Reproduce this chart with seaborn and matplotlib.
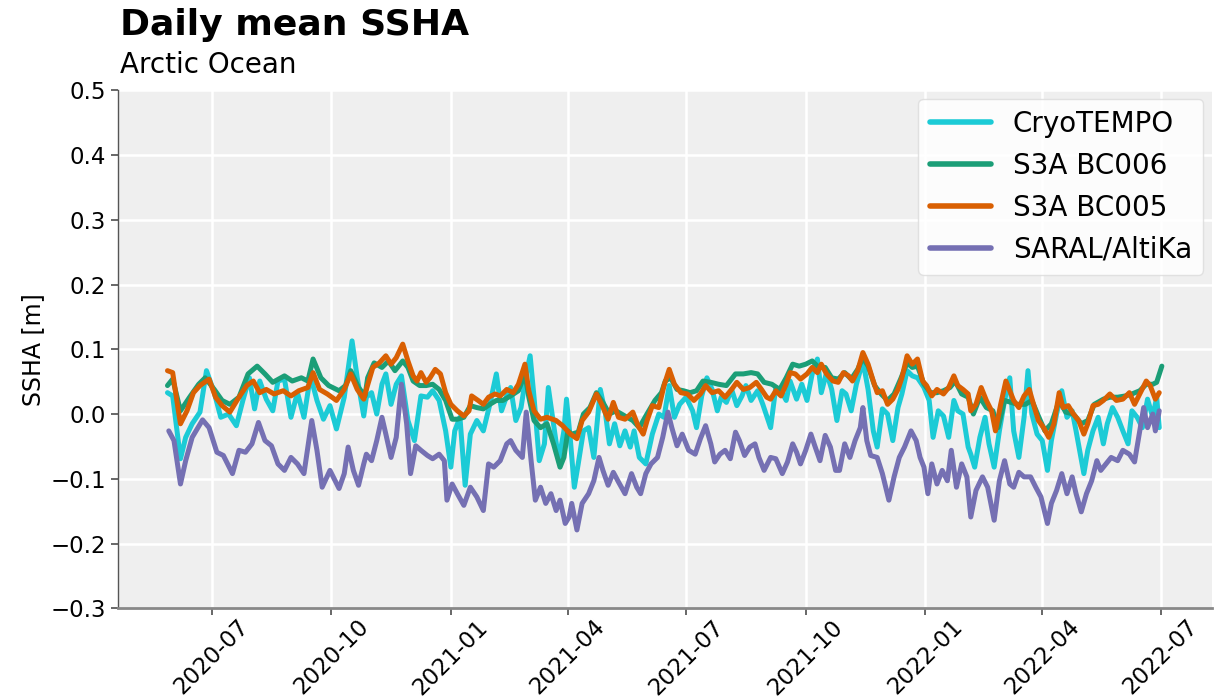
import matplotlib.pyplot as plt
import matplotlib.dates as mdates
import pandas as pd
import seaborn as sns

# days counted from 2020-07-01, values in metres
cryo_days = [-34, -30, -26, -24, -20, -15, -9, -4, 2, 7, 13, 19, 24, 29, 33, 37, 42, 47, 51, 56,
             61, 66, 71, 76, 81, 86, 91, 96, 102, 108, 112, 117,
             119, 123, 127, 131, 134, 138, 142, 146, 151, 156, 161, 166, 170, 175, 180, 184, 187, 191,
             195, 199, 204, 209, 214, 219, 223, 227, 230, 234, 238, 242, 245, 248, 252, 256, 259, 263,
             267, 271,
             273, 276, 279, 282, 286, 290, 294, 299, 303, 306, 310, 314, 318, 322, 325, 329, 334, 339,
             344, 348, 352, 356, 360, 365, 370, 373, 377, 381, 385, 389, 392, 396, 400, 404, 408, 411,
             415, 420, 424,
             430, 434, 438, 442, 445, 450, 454, 458, 462, 466, 469, 473, 477, 481, 485, 488, 492, 496,
             501, 505, 509, 512, 516, 520, 524, 528, 531, 535, 539, 543, 548, 552, 555, 559, 563, 567,
             571, 574, 578, 582,
             584, 587, 591, 595, 598, 602, 606, 610, 614, 617, 621, 625, 628, 631, 635, 639, 643, 646,
             650, 654, 658, 662, 665, 671, 674, 678, 682, 686, 689, 693, 697, 701, 705, 708, 712, 716,
             720, 724, 727, 729]
cryo_vals = [0.033, 0.028, -0.036, -0.069, -0.036, -0.015, 0.003, 0.067, 0.033, -0.005, 0.0, -0.018,
             0.021, 0.056, 0.008, 0.051, 0.023, 0.005, 0.051, 0.054, -0.005, 0.033, -0.005, 0.059,
             0.021, -0.008, 0.013, -0.023, 0.026, 0.113, 0.056, -0.003,
             0.026, 0.033, 0.0, 0.046, 0.062, 0.015, 0.046, 0.059, -0.010, -0.041, 0.028, 0.026, 0.036,
             0.021, -0.026, -0.082, -0.026, -0.005, -0.110, -0.031, -0.010, -0.026, 0.015, 0.062, 0.005,
             0.028, 0.041, -0.010, 0.010, 0.062, 0.090, 0.026, -0.072, -0.046, 0.041, -0.015, -0.072,
             -0.026,
             0.023, -0.041, -0.113, -0.077, -0.026, -0.021, -0.067, 0.038, 0.0, -0.046, -0.015, -0.049,
             -0.026, -0.051, -0.026, -0.067, -0.077, -0.031, 0.0, -0.005, 0.044, -0.005, 0.015, 0.026,
             0.005, -0.021, 0.028, 0.056, 0.038, 0.005, 0.026, 0.018, 0.038, 0.013, 0.028, 0.044, 0.021,
             0.036, 0.015,
             -0.021, 0.041, 0.036, 0.021, 0.051, 0.023, 0.046, 0.021, 0.062, 0.085, 0.033, 0.064, 0.038,
             -0.010, 0.036, 0.031, 0.005, 0.046, 0.082, 0.038, -0.026, -0.051, 0.008, 0.0, -0.041, 0.010,
             0.031, 0.067, 0.059, 0.056, 0.041, 0.021, -0.036, 0.005, -0.003, -0.036, 0.021, 0.005, 0.0,
             -0.051,
             -0.062, -0.082, -0.036, -0.005, -0.046, -0.082, -0.026, 0.021, 0.056, -0.026, -0.067, -0.005,
             0.067, 0.0, -0.031, -0.041, -0.087, -0.041, 0.0, 0.036, -0.005, 0.005, -0.026, -0.092,
             -0.056, -0.026, -0.005, -0.046, -0.015, 0.010, -0.005, -0.026, -0.046, 0.005, -0.005,
             -0.021, 0.023, -0.005, 0.026, -0.021]

bc006_days = [-34, -30, -24, -17, -10, -5, 2, 8, 14, 21, 28, 35, 41, 47, 56, 62, 69, 74, 78, 84, 90,
              98, 103, 107, 113, 118,
              120, 125, 131, 136, 141, 147, 151, 155, 160, 165, 170, 175, 180, 185, 189, 194, 199, 204,
              209, 214, 219, 224, 230, 236, 241, 244, 248, 253, 258, 263, 268, 271,
              274, 277, 282, 286, 291, 296, 301, 306, 311, 318, 324, 329, 334, 341, 346, 349, 353, 358,
              363, 368, 373, 378, 384, 390, 396, 403, 409, 415, 420, 425,
              431, 437, 442, 447, 452, 457, 462, 467, 472, 477, 482, 487, 492, 497, 501, 505, 510, 515,
              520, 525, 530, 535, 539, 543, 548, 553, 558, 563, 568, 572, 577, 582,
              586, 591, 596, 601, 605, 610, 615, 620, 626, 631, 636, 641, 646, 652, 657, 663, 669, 674,
              679, 686, 691, 697, 703, 708, 714, 719, 724, 727, 731]
bc006_vals = [0.044, 0.054, 0.005, 0.026, 0.046, 0.056, 0.038, 0.021, 0.015, 0.026, 0.062, 0.074, 0.062,
              0.049, 0.059, 0.051, 0.056, 0.051, 0.085, 0.056, 0.044, 0.036, 0.044, 0.067, 0.041, 0.028,
              0.056, 0.079, 0.072, 0.082, 0.067, 0.082, 0.072, 0.051, 0.044, 0.044, 0.046, 0.038, 0.021,
              -0.008, -0.008, -0.005, 0.013, 0.010, 0.008, 0.015, 0.021, 0.021, 0.028, 0.036, 0.062,
              0.026, -0.010, -0.021, -0.015, -0.046, -0.082, -0.067,
              -0.026, -0.031, -0.028, 0.0, 0.010, 0.033, 0.018, 0.0, 0.005, -0.003, -0.010, -0.021,
              -0.003, 0.021, 0.033, 0.051, 0.056, 0.038, 0.036, 0.033, 0.036, 0.051, 0.049, 0.046, 0.044,
              0.062, 0.062, 0.064, 0.062, 0.049,
              0.046, 0.038, 0.056, 0.077, 0.074, 0.077, 0.082, 0.072, 0.072, 0.056, 0.054, 0.064, 0.054,
              0.069, 0.087, 0.074, 0.044, 0.031, 0.021, 0.031, 0.054, 0.079, 0.072, 0.074, 0.046, 0.033,
              0.033, 0.036, 0.041, 0.051, 0.031, 0.026,
              0.0, 0.026, 0.010, 0.005, -0.021, 0.021, 0.018, 0.015, 0.015, 0.021, -0.003, -0.026, -0.015,
              0.021, 0.003, 0.0, -0.015, -0.010, 0.015, 0.023, 0.026, 0.026, 0.028, 0.031, 0.036, 0.046,
              0.046, 0.049, 0.074]

bc005_days = [-34, -30, -26, -24, -19, -14, -9, -2, 3, 8, 14, 21, 27, 32, 37, 42, 48, 55, 61, 67, 74,
              78, 83, 89, 96, 102, 107, 112, 117,
              119, 124, 129, 134, 138, 142, 147, 151, 155, 158, 161, 165, 168, 172, 176, 180, 184, 189,
              194, 198, 200, 205, 209, 213, 218, 222, 227, 232, 236, 241, 244, 248, 253, 258, 265, 270,
              276, 281, 285, 290, 296, 300, 305, 309, 313, 318, 324, 328, 332, 335, 339, 344, 348, 352,
              356, 361, 366, 371, 376, 380, 385, 390, 395, 400, 404, 409, 414, 419, 423, 427,
              430, 434, 438, 442, 445, 449, 453, 458, 462, 466, 469, 473, 478, 482, 486, 490, 493, 497,
              501, 505, 509, 512, 516, 520, 524, 528, 531, 535, 539, 543, 547, 550, 554, 558, 563, 567,
              571, 574, 578, 582,
              584, 588, 592, 596, 600, 603, 607, 611, 614, 617, 621, 625, 629, 633, 636, 640, 644, 648,
              652, 655, 659, 663, 667, 671, 674, 678, 682, 686, 691, 696, 701, 706, 710, 714, 719, 722,
              726, 729]
bc005_vals = [0.067, 0.064, 0.010, -0.015, 0.005, 0.033, 0.044, 0.054, 0.026, 0.013, 0.003, 0.026, 0.044,
              0.051, 0.033, 0.038, 0.031, 0.036, 0.028, 0.036, 0.041, 0.064, 0.038, 0.031, 0.021, 0.038,
              0.062, 0.038, 0.023,
              0.038, 0.072, 0.079, 0.090, 0.077, 0.087, 0.108, 0.082, 0.059, 0.051, 0.064, 0.049, 0.056,
              0.069, 0.062, 0.033, 0.015, 0.005, -0.003, 0.005, 0.028, 0.021, 0.015, 0.026, 0.031, 0.028,
              0.038, 0.033, 0.046, 0.077, 0.036, 0.005, -0.008, -0.005, -0.010, -0.018,
              -0.031, -0.038, -0.010, 0.003, 0.031, 0.015, -0.008, 0.018, -0.005, -0.008, 0.003, -0.018,
              -0.031, -0.010, 0.013, 0.010, 0.044, 0.069, 0.046, 0.033, 0.031, 0.021, 0.031, 0.044, 0.033,
              0.036, 0.026, 0.038, 0.049, 0.038, 0.041, 0.049, 0.038, 0.026,
              0.023, 0.036, 0.028, 0.046, 0.064, 0.062, 0.054, 0.062, 0.072, 0.064, 0.077, 0.062, 0.051,
              0.049, 0.064, 0.059, 0.051, 0.067, 0.095, 0.077, 0.051, 0.033, 0.036, 0.015, 0.023, 0.038,
              0.056, 0.090, 0.077, 0.085, 0.051, 0.044, 0.028, 0.038, 0.031, 0.041, 0.059, 0.044, 0.038,
              0.031,
              0.005, 0.015, 0.041, 0.021, 0.005, -0.026, 0.015, 0.051, 0.036, 0.021, 0.010, 0.028, 0.038,
              0.010, -0.010, -0.021, -0.036, -0.015, 0.033, 0.010, 0.013, 0.0, -0.010, -0.031, -0.015,
              0.013, 0.015, 0.021, 0.031, 0.021, 0.023, 0.033, 0.015, 0.031, 0.051, 0.044, 0.023, 0.033]

saral_days = [-33, -29, -24, -20, -15, -7, -2, 4, 9, 16, 21, 26, 31, 36, 41, 46, 51, 56, 61, 66, 71,
              77, 81, 85, 91, 98, 102, 105, 109, 113, 117,
              119, 123, 127, 131, 134, 138, 142, 146, 150, 153, 157, 161, 166, 170, 175, 179, 181, 185,
              189, 194, 199, 204, 209, 213, 217, 222, 227, 230, 234, 239, 242, 246, 249, 253, 257, 261,
              265, 268, 272,
              275, 277, 281, 285, 290, 294, 298, 301, 305, 309, 313, 318, 323, 327, 330, 334, 338, 343,
              347, 351, 354, 358, 362, 367, 372, 376, 380, 384, 387, 391, 395, 399, 403, 406, 410, 414,
              418, 421, 425,
              430, 434, 439, 443, 447, 450, 453, 457, 461, 464, 468, 472, 476, 480, 483, 487, 491, 495,
              499, 501, 504, 507, 512, 516, 521, 525, 529, 533, 538, 542, 545, 548, 551, 554, 558, 562,
              566, 569, 573, 577, 581,
              584, 588, 593, 597, 602, 606, 610, 614, 617, 621, 625, 630, 634, 638, 643, 646, 650, 654,
              658, 662, 665, 669, 673, 677, 681, 684, 688, 692, 697, 701, 706, 710, 714, 717, 720, 724,
              726, 729]
saral_vals = [-0.026, -0.041, -0.108, -0.072, -0.036, -0.009, -0.021, -0.059, -0.064, -0.092, -0.056,
              -0.059, -0.046, -0.013, -0.041, -0.049, -0.077, -0.087, -0.067, -0.077, -0.092, -0.010,
              -0.056, -0.113, -0.087, -0.115, -0.092, -0.051, -0.087, -0.110, -0.077,
              -0.062, -0.072, -0.041, -0.005, -0.031, -0.067, -0.036, 0.046, -0.015, -0.092, -0.049,
              -0.056, -0.064, -0.069, -0.062, -0.072, -0.133, -0.108, -0.123, -0.141, -0.113, -0.128,
              -0.149, -0.077, -0.082, -0.072, -0.046, -0.041, -0.056, -0.067, 0.003, -0.077, -0.133,
              -0.113, -0.138, -0.123, -0.149, -0.133, -0.169,
              -0.159, -0.138, -0.179, -0.138, -0.123, -0.103, -0.067, -0.087, -0.110, -0.090, -0.105,
              -0.123, -0.092, -0.113, -0.123, -0.092, -0.077, -0.067, -0.036, 0.003, -0.021, -0.049,
              -0.031, -0.056, -0.062, -0.038, -0.018, -0.046, -0.074, -0.062, -0.056, -0.069, -0.028,
              -0.041, -0.064, -0.051, -0.046, -0.067, -0.087,
              -0.067, -0.069, -0.092, -0.074, -0.046, -0.059, -0.077, -0.056, -0.031, -0.049, -0.072,
              -0.033, -0.051, -0.087, -0.087, -0.046, -0.067, -0.041, -0.021, 0.010, -0.041, -0.064,
              -0.067, -0.092, -0.133, -0.097, -0.067, -0.051, -0.026, -0.041, -0.067, -0.082, -0.123,
              -0.077, -0.108, -0.087, -0.103, -0.056, -0.113, -0.077, -0.097,
              -0.159, -0.118, -0.097, -0.113, -0.164, -0.103, -0.072, -0.108, -0.113, -0.090, -0.097,
              -0.097, -0.113, -0.128, -0.169, -0.138, -0.118, -0.092, -0.123, -0.097, -0.123, -0.151,
              -0.123, -0.103, -0.072, -0.087, -0.077, -0.067, -0.072, -0.056, -0.062, -0.074, -0.026,
              0.010, -0.021, 0.0, -0.026, 0.005]

products = ["CryoTEMPO", "S3A BC006", "S3A BC005", "SARAL/AltiKa"]
colors = ["#1ccbd6", "#1b9e77", "#d95f02", "#7570b3"]

start = pd.Timestamp("2020-07-01")
frames = []
for name, days, vals in zip(products,
                            [cryo_days, bc006_days, bc005_days, saral_days],
                            [cryo_vals, bc006_vals, bc005_vals, saral_vals]):
    frames.append(pd.DataFrame({
        "date": start + pd.to_timedelta(days, unit="D"),
        "ssha": vals,
        "product": name,
    }))
df = pd.concat(frames, ignore_index=True)

sns.set_theme(style="darkgrid", rc={"axes.facecolor": "#efefef", "grid.color": "white",
                                    "grid.linewidth": 1.8, "text.color": "black",
                                    "axes.labelcolor": "black", "xtick.color": "black",
                                    "ytick.color": "black"})
plt.rcParams["font.family"] = ["DejaVu Sans"]

fig, ax = plt.subplots(figsize=(12.14, 7.0), dpi=100)
fig.subplots_adjust(left=0.097, right=0.998, top=0.871, bottom=0.131)

sns.lineplot(data=df, x="date", y="ssha", hue="product", hue_order=products,
             palette=dict(zip(products, colors)), linewidth=3.6, estimator=None, ax=ax)

ax.set_ylim(-0.3, 0.5)
ax.set_yticks([-0.3, -0.2, -0.1, 0.0, 0.1, 0.2, 0.3, 0.4, 0.5])
ax.xaxis.set_major_locator(mdates.MonthLocator(bymonth=[1, 4, 7, 10]))
ax.xaxis.set_major_formatter(mdates.DateFormatter("%Y-%m"))
ax.tick_params(axis="x", labelrotation=45, labelsize=16.5, length=5, pad=0,
               color="#555555", bottom=True)
ax.tick_params(axis="y", labelsize=16.5, length=5, color="#555555", left=True)
ax.set_xlabel("")
ax.set_ylabel("SSHA [m]", fontsize=17)

for side in ["top", "right"]:
    ax.spines[side].set_visible(False)
ax.spines["left"].set_visible(True)
ax.spines["left"].set_color("#555555")
ax.spines["left"].set_linewidth(1.0)
ax.spines["bottom"].set_visible(True)
ax.spines["bottom"].set_color("#888888")
ax.spines["bottom"].set_linewidth(2.0)

handles, labels = ax.get_legend_handles_labels()
leg = ax.legend(handles, labels, loc="upper right", fontsize=20, frameon=True,
                facecolor="white", edgecolor="#dddddd", framealpha=0.85, handlelength=2.2,
                borderaxespad=0.3)
for line in leg.get_lines():
    line.set_linewidth(4)

fig.text(0.099, 0.965, "Daily mean SSHA", fontsize=26, fontweight="bold", va="center", ha="left")
fig.text(0.099, 0.907, "Arctic Ocean", fontsize=20, va="center", ha="left")

fig.savefig("out.png", dpi=100)
